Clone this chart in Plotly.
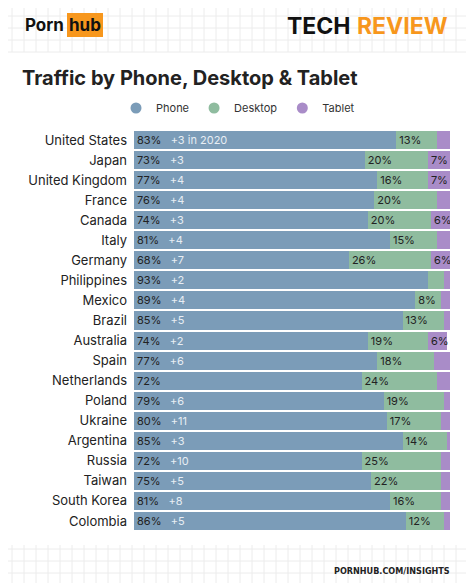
import plotly.graph_objects as go

countries = ["United States", "Japan", "United Kingdom", "France", "Canada", "Italy",
             "Germany", "Philippines", "Mexico", "Brazil", "Australia", "Spain",
             "Netherlands", "Poland", "Ukraine", "Argentina", "Russia", "Taiwan",
             "South Korea", "Colombia"]
phone = [83, 73, 77, 76, 74, 81, 68, 93, 89, 85, 74, 77, 72, 79, 80, 85, 72, 75, 81, 86]
change = ["+3 in 2020", "+3", "+4", "+4", "+3", "+4", "+7", "+2", "+4", "+5", "+2", "+6",
          "", "+6", "+11", "+3", "+10", "+5", "+8", "+5"]
desktop = [13, 20, 16, 20, 20, 15, 26, 5, 8, 13, 19, 18, 24, 19, 17, 14, 25, 22, 16, 12]
tablet = [4, 7, 7, 4, 6, 4, 6, 2, 3, 2, 6, 5, 4, 2, 3, 1, 3, 3, 3, 2]
tablet_shown = [False, True, True, False, True, False, True, False, False, False, True,
                False, False, False, False, False, False, False, False, False]
desktop_shown = [v >= 8 for v in desktop]

PHONE, DESK, TAB = "#7b9cb8", "#8fbc9f", "#a98cc8"
FONT = "Inter"

# the page has an 8px body margin, so the figure is laid out 8px up/left of the target pixels
OFF = 8
W, H = 474 - OFF, 583 - OFF
L, R, T, B = 134 - OFF, 474 - 450, 130 - OFF, 583 - 531

phone_txt = [f"{p}%&nbsp;&nbsp;&nbsp;<span style='color:#e8eef4'>{c}</span>" for p, c in zip(phone, change)]
desk_txt = [f"{d}%" if s else "" for d, s in zip(desktop, desktop_shown)]
tab_txt = [f"{t}%" if s else "" for t, s in zip(tablet, tablet_shown)]

fig = go.Figure()
for name, vals, txt, col in [("Phone", phone, phone_txt, PHONE),
                             ("Desktop", desktop, desk_txt, DESK),
                             ("Tablet", tablet, tab_txt, TAB)]:
    fig.add_trace(go.Bar(
        y=countries, x=vals, name=name, orientation="h", marker_color=col,
        marker_line_width=0, text=txt, textposition="inside", insidetextanchor="start",
        textfont=dict(size=11, color="#222", family=FONT), constraintext="none",
        hoverinfo="skip", showlegend=False))
    # circle markers for the legend
    fig.add_trace(go.Scatter(x=[None], y=[None], mode="markers", name=name,
                             marker=dict(color=col, size=11, symbol="circle")))

pw, ph = W - L - R, H - T - B


def px_x(x):
    return (x - OFF - L) / pw


def px_y(y):
    return (H - B - (y - OFF)) / ph


fig.update_layout(
    width=W, height=H, barmode="stack", bargap=0.1,
    margin=dict(l=L, r=R, t=T, b=B, autoexpand=False),
    paper_bgcolor="white", plot_bgcolor="white",
    font=dict(family=FONT, color="#222"),
    xaxis=dict(range=[0, 100], visible=False, fixedrange=True),
    yaxis=dict(autorange="reversed", showgrid=False, ticks="", ticklabelstandoff=6,
               tickfont=dict(size=13, color="#222"), fixedrange=True),
    legend=dict(orientation="h", x=px_x(238), xanchor="center", y=px_y(108), yanchor="middle",
                traceorder="normal", font=dict(size=11, color="#333"),
                itemwidth=30, tracegroupgap=0),
)

grid = []
for i in range(0, 475, 12):
    grid.append(dict(type="line", xref="paper", yref="paper", x0=px_x(i), x1=px_x(i),
                     y0=px_y(0), y1=px_y(52), line=dict(color="#ececec", width=1), layer="below"))
    grid.append(dict(type="line", xref="paper", yref="paper", x0=px_x(i), x1=px_x(i),
                     y0=px_y(545), y1=px_y(583), line=dict(color="#ececec", width=1), layer="below"))
for j in range(4, 53, 12):
    grid.append(dict(type="line", xref="paper", yref="paper", x0=px_x(0), x1=px_x(474),
                     y0=px_y(j), y1=px_y(j), line=dict(color="#ececec", width=1), layer="below"))
for j in range(549, 583, 12):
    grid.append(dict(type="line", xref="paper", yref="paper", x0=px_x(0), x1=px_x(474),
                     y0=px_y(j), y1=px_y(j), line=dict(color="#ececec", width=1), layer="below"))
grid.append(dict(type="rect", xref="paper", yref="paper", x0=px_x(67), x1=px_x(103),
                 y0=px_y(13), y1=px_y(37), fillcolor="#f7971d", line_width=0))
fig.update_layout(shapes=grid)

fig.add_annotation(text="<b>Traffic by Phone, Desktop & Tablet</b>", xref="paper", yref="paper",
                   x=px_x(20), y=px_y(78), xanchor="left", yanchor="middle", showarrow=False,
                   font=dict(size=20, color="#222", family=FONT))
fig.add_annotation(text="<b>Porn</b>", xref="paper", yref="paper", x=px_x(66), y=px_y(25),
                   xanchor="right", yanchor="middle", showarrow=False,
                   font=dict(size=17, color="#111", family=FONT))
fig.add_annotation(text="<b>hub</b>", xref="paper", yref="paper", x=px_x(85), y=px_y(25),
                   xanchor="center", yanchor="middle", showarrow=False,
                   font=dict(size=17, color="#111", family=FONT))
fig.add_annotation(text="<b>TECH</b> <b><span style='color:#f7971d'>REVIEW</span></b>",
                   xref="paper", yref="paper", x=px_x(450), y=px_y(26), xanchor="right",
                   yanchor="middle", showarrow=False,
                   font=dict(size=23, color="#111", family=FONT))
fig.add_annotation(text="<b>PORNHUB.COM/INSIGHTS</b>", xref="paper", yref="paper",
                   x=px_x(452), y=px_y(571), xanchor="right", yanchor="middle", showarrow=False,
                   font=dict(size=9, color="#222", family="DejaVu Sans Condensed"))

fig.write_html("out.html")
